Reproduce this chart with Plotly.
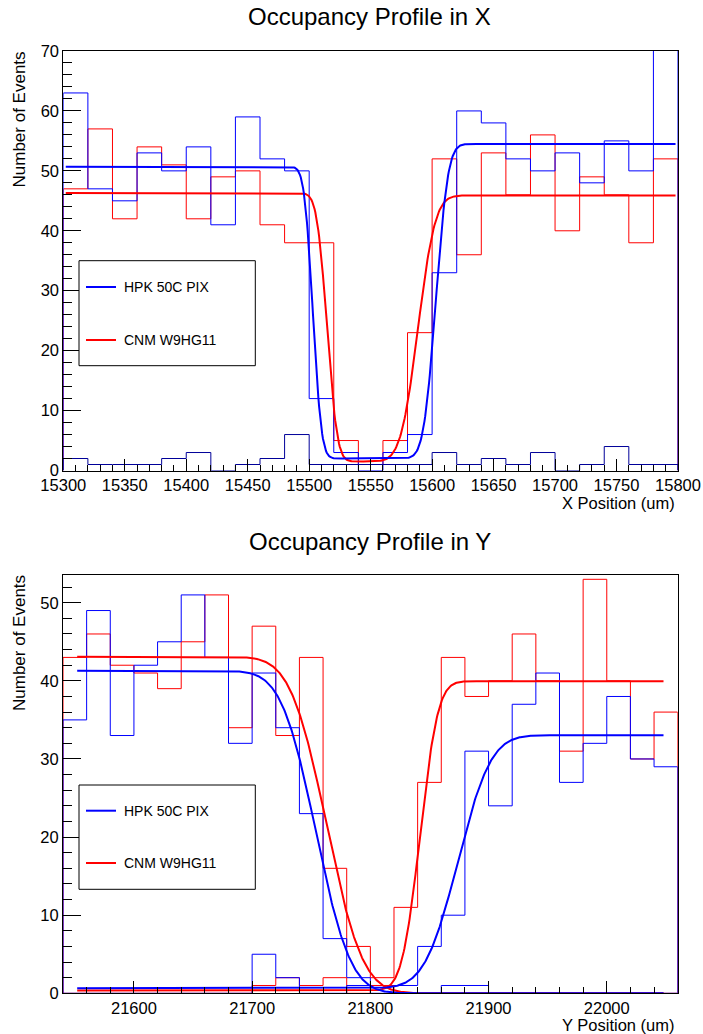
import math
import numpy as np
import plotly.graph_objects as go

W, H = 703, 1034

# ---------------- data: occupancy in X (20 um bins, 15300-15800 um) ----------------
x_lo, x_bin = 15300, 20
hpk_x = [63, 47, 45, 53, 50, 54, 41, 59, 52, 50, 12, 3, 0, 3, 6, 33, 60, 58, 52, 50, 53, 48, 55, 50, 74]
cnm_x = [47, 57, 42, 54, 51, 42, 49, 50, 41, 38, 38, 5, 1, 5, 23, 52, 36, 53, 46, 56, 40, 49, 46, 38, 52]
aux_x = [2, 1, 1, 1, 2, 3, 0, 1, 2, 6, 1, 1, 1, 1, 1, 3, 1, 2, 1, 3, 0, 1, 4, 1, 1]

# ---------------- data: occupancy in Y (20 um bins, 21540-22060 um) ----------------
y_lo, y_bin = 21540, 20
hpk_y = [35, 49, 33, 42, 45, 51, 43, 32, 41, 34, 23, 7, 2, 1, 1, 6, 10, 31, 24, 37, 41, 27, 32, 38, 30, 29]
cnm_y = [43, 46, 42, 41, 39, 45, 51, 34, 47, 33, 43, 16, 6, 2, 11, 27, 43, 38, 40, 46, 40, 31, 53, 40, 30, 36]
hpk_y_low = [0, 0, 0, 0, 0, 0, 0, 0, 5, 2, 0, 0, 1, 0, 0, 0, 1, 1, 0, 0, 0, 0, 0, 0, 0, 0]
cnm_y_low = [0, 0, 0, 0, 0, 0, 0, 0, 1, 2, 1, 2, 0, 1, 0, 0, 0, 0, 0, 0, 0, 0, 0, 0, 0, 0]

# ---------------- fit parameters ----------------
# X: single edge-pair model [left plateau, floor, right plateau, fall mean, fall sigma, rise mean, rise sigma]
hpk_x_fit = [50.7, 2.0, 54.5, 15503.0, 5.5, 15603.0, 7.8]
cnm_x_fit = [46.3, 1.5, 45.9, 15514.5, 6.5, 15588.5, 11.0]
x_fit_range = [15302, 15798]
# Y: separate falling and rising edges [plateau, baseline, mean, sigma]
hpk_y_fall = [41.3, 0.0, 21754.0, 23.0]
hpk_y_rise = [32.4, 0.65, 21874.0, 22.0]
cnm_y_fall = [43.1, 0.0, 21763.0, 24.0]
cnm_y_rise = [39.6, 0.35, 21842.0, 12.0]
y_fit_range = [21552, 22048]

BLUE, RED, NAVY = "#0000ff", "#ff0000", "#000099"
FONT = "Liberation Sans, Arial, Helvetica, sans-serif"


def px(x):
    return x / W


def py(y):
    return 1 - y / H


def step_outline(lo, width, counts):
    xs, ys = [lo], [0]
    for i, c in enumerate(counts):
        xs += [lo + i * width, lo + (i + 1) * width]
        ys += [c, c]
    xs.append(lo + len(counts) * width)
    ys.append(0)
    return xs, ys


def phi(z):
    return 0.5 * (1.0 + math.erf(z / math.sqrt(2.0)))


def edge_pair(x, p):
    left, floor, right, m1, s1, m2, s2 = p
    return floor + (left - floor) * (1 - phi((x - m1) / s1)) + (right - floor) * phi((x - m2) / s2)


def falling(x, p):
    amp, base, m, s = p
    return base + amp * (1 - phi((x - m) / s))


def rising(x, p):
    amp, base, m, s = p
    return base + amp * phi((x - m) / s)


fig = go.Figure()


def add_hist(lo, width, counts, color, xa, ya):
    xs, ys = step_outline(lo, width, counts)
    fig.add_trace(go.Scatter(x=xs, y=ys, mode="lines", line=dict(color=color, width=1),
                             xaxis=xa, yaxis=ya, hoverinfo="skip"))


def add_curve(fn, p, rng, color, xa, ya):
    xs = np.linspace(rng[0], rng[1], 800)
    ys = [fn(v, p) for v in xs]
    fig.add_trace(go.Scatter(x=xs, y=ys, mode="lines", line=dict(color=color, width=2),
                             xaxis=xa, yaxis=ya, hoverinfo="skip"))


# X panel
add_hist(x_lo, x_bin, cnm_x, RED, "x", "y")
add_hist(x_lo, x_bin, hpk_x, BLUE, "x", "y")
add_hist(x_lo, x_bin, aux_x, NAVY, "x", "y")
add_curve(edge_pair, cnm_x_fit, x_fit_range, RED, "x", "y")
add_curve(edge_pair, hpk_x_fit, x_fit_range, BLUE, "x", "y")

# Y panel
add_hist(y_lo, y_bin, cnm_y, RED, "x2", "y2")
add_hist(y_lo, y_bin, hpk_y, BLUE, "x2", "y2")
add_hist(y_lo, y_bin, cnm_y_low, RED, "x2", "y2")
add_hist(y_lo, y_bin, hpk_y_low, BLUE, "x2", "y2")
add_curve(falling, cnm_y_fall, y_fit_range, RED, "x2", "y2")
add_curve(rising, cnm_y_rise, y_fit_range, RED, "x2", "y2")
add_curve(falling, hpk_y_fall, y_fit_range, BLUE, "x2", "y2")
add_curve(rising, hpk_y_rise, y_fit_range, BLUE, "x2", "y2")

axis_common = dict(showgrid=False, zeroline=False, showline=True, mirror=True, linecolor="black",
                   linewidth=1, ticks="inside", tickcolor="black", tickwidth=1, automargin=False,
                   tickformat="d", tickfont=dict(family=FONT, size=16.5, color="black"))

fig.update_layout(
    width=W, height=H, margin=dict(l=0, r=0, t=0, b=0, autoexpand=False),
    paper_bgcolor="white", plot_bgcolor="white", showlegend=False,
    font=dict(family=FONT, color="black"),
    xaxis=dict(axis_common, domain=[px(63.3), px(678)], range=[15300, 15800], anchor="y",
               tick0=15300, dtick=50, ticklen=12,
               minor=dict(ticks="inside", dtick=10, tick0=15300, ticklen=6, tickcolor="black", showgrid=False)),
    yaxis=dict(axis_common, domain=[py(470.5), py(51)], range=[0, 70], anchor="x",
               tick0=0, dtick=10, ticklen=18,
               minor=dict(ticks="inside", dtick=2, tick0=0, ticklen=9, tickcolor="black", showgrid=False)),
    xaxis2=dict(axis_common, domain=[px(63), px(677.7)], range=[21540, 22060], anchor="y2",
                tick0=21600, dtick=100, ticklen=12,
                minor=dict(ticks="inside", dtick=20, tick0=21540, ticklen=6, tickcolor="black", showgrid=False)),
    yaxis2=dict(axis_common, domain=[py(993.3), py(575)], range=[0, 53.55], anchor="x2",
                tick0=0, dtick=10, ticklen=18,
                minor=dict(ticks="inside", dtick=2, tick0=0, ticklen=9, tickcolor="black", showgrid=False)),
)

annotations = []
shapes = []


def text(x, y, s, size, xanchor="center", yanchor="middle", angle=0):
    annotations.append(dict(x=px(x), y=py(y), xref="paper", yref="paper", text=s, showarrow=False,
                            xanchor=xanchor, yanchor=yanchor, textangle=angle,
                            font=dict(family=FONT, size=size, color="black")))


# titles and axis labels
text(369, 17, "Occupancy Profile in X", 24)
text(370, 541, "Occupancy Profile in Y", 24)
text(19.5, 50, "Number of Events", 17, yanchor="top", angle=-90)
text(19.5, 573.5, "Number of Events", 17, yanchor="top", angle=-90)
text(677, 503, "X Position (um)", 16.5, xanchor="right")
text(677, 1025, "Y Position (um)", 16.5, xanchor="right")

# legends
for top, bot, l1, l2 in [(260.7, 365.7, 287, 340), (785, 889.3, 810.7, 863)]:
    shapes.append(dict(type="rect", xref="paper", yref="paper", x0=px(79), x1=px(255.3),
                       y0=py(bot), y1=py(top), line=dict(color="black", width=1), fillcolor="white",
                       layer="above"))
    for yy, col, label in [(l1, BLUE, "HPK 50C PIX"), (l2, RED, "CNM W9HG11")]:
        shapes.append(dict(type="line", xref="paper", yref="paper", x0=px(86), x1=px(116),
                           y0=py(yy), y1=py(yy), line=dict(color=col, width=2), layer="above"))
        text(122.3, yy, label, 14, xanchor="left")

fig.update_layout(annotations=annotations, shapes=shapes)
fig.write_html("out.html")
